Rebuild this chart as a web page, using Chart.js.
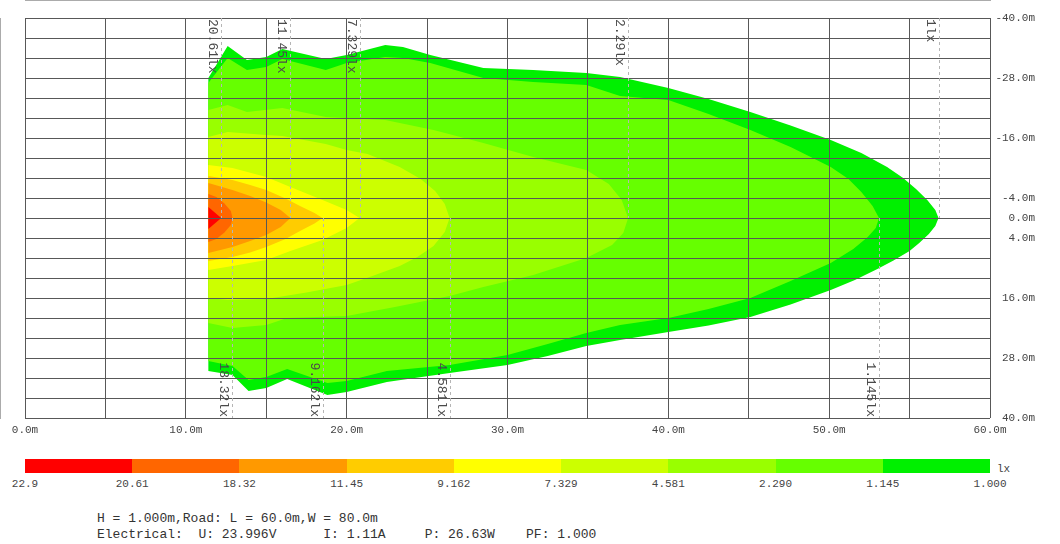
<!DOCTYPE html>
<html><head><meta charset="utf-8">
<script src="https://cdn.jsdelivr.net/npm/chart.js@4.4.0/dist/chart.umd.min.js"></script>
<style>
html,body{margin:0;padding:0;background:#fff;width:1060px;height:544px;overflow:hidden;font-family:'Liberation Mono',monospace;}
#wrap{position:relative;width:1060px;height:544px;}
#c{position:absolute;left:0;top:0;}
.lg{position:absolute;top:459px;height:14px;}
.lgl{position:absolute;top:478px;font-size:11px;color:#444;transform:translateX(-50%);line-height:13px;white-space:nowrap;}
.ft{position:absolute;left:97px;font-size:13px;color:#333;white-space:pre;line-height:15px;}
</style></head><body>
<div id="wrap">
<canvas id="c" width="1060" height="440"></canvas>
<div id="legend"></div>
<div id="footer"></div>
</div>
<script>
// ---- axis ticks ----
const xTickLabels = [0, 10, 20, 30, 40, 50, 60];
const yTickLabels = [-40, -28, -16, -4, 0, 4, 16, 28, 40];

// ---- legend (lux classes) ----
const legendValues = ['22.9', '20.61', '18.32', '11.45', '9.162', '7.329', '4.581', '2.290', '1.145', '1.000'];
const legendColors = ['#FF0000', '#FF6600', '#FF9900', '#FFCC00', '#FFFF00', '#CCFF00', '#99FF00', '#66FF00', '#00F000'];
const legendUnit = 'lx';

// ---- iso-lux markers (tip position along axis, metres) ----
const isoLabels = ['20.61lx', '11.45lx', '7.329lx', '2.29lx', '1lx', '18.32lx', '9.162lx', '4.581lx', '1.145lx'];
const isoX      = [12.2, 16.5, 20.8, 37.5, 56.8, 12.9, 18.5, 26.4, 53.1];
const isoSide   = ['top', 'top', 'top', 'top', 'top', 'bottom', 'bottom', 'bottom', 'bottom'];

// ---- contour polygons [x (m), y (m)] ----
const zone_20_61 = [[11.4,-2.2],[12.2,0],[11.4,2.2]];
const zone_18_32 = [[11.4,-4.8],[11.9,-4.2],[12.4,-2.9],[12.8,-1.4],[12.9,0],[12.8,1.4],[12.4,2.9],[11.9,4.2],[11.4,4.8]];
const zone_11_45 = [[11.4,-7.0],[12.9,-5.6],[14.0,-4.4],[15.0,-3.1],[15.9,-1.6],[16.5,0],[15.9,1.8],[15.0,3.4],[14.0,4.6],[12.9,5.8],[11.4,7.0]];
const zone_9_162 = [[11.4,-8.4],[12.9,-7.6],[14.0,-6.6],[15.0,-5.6],[16.2,-3.9],[17.1,-2.4],[18.0,-1.0],[18.5,0],[18.0,1.1],[17.1,2.6],[16.2,4.2],[15.0,5.8],[14.0,6.9],[12.9,7.8],[11.4,8.6]];
const zone_7_329 = [[11.4,-10.6],[12.9,-10.0],[15.0,-8.2],[16.5,-6.2],[18.5,-3.6],[20.0,-1.6],[20.8,0],[20.0,2.0],[18.5,4.4],[16.5,6.6],[15.0,8.4],[12.9,9.6],[11.4,10.4]];
const zone_4_581 = [[11.4,-16.2],[12.6,-17.2],[15.0,-16.6],[16.0,-16.4],[18.7,-14.8],[20.0,-13.6],[21.3,-12.8],[23.3,-10.2],[24.6,-7.8],[25.5,-5.4],[26.1,-2.8],[26.4,0],[26.1,2.8],[25.4,5.6],[24.4,7.8],[23.3,9.6],[21.6,11.6],[20.0,13.4],[17.5,14.9],[15.0,16.2],[12.6,16.4],[11.4,16.0]];
const zone_2_290 = [[11.4,-21.6],[12.6,-22.6],[13.8,-21.2],[16.0,-22.0],[18.7,-20.2],[22.4,-19.6],[25.4,-17.6],[28.5,-15.0],[31.6,-12.2],[34.9,-9.6],[36.3,-6.8],[37.1,-3.6],[37.5,0],[37.2,3.0],[36.5,5.4],[34.9,8.0],[31.6,11.4],[28.5,13.8],[26.4,15.6],[23.0,17.8],[20.0,19.6],[16.3,20.0],[15.0,21.4],[12.9,22.0],[11.4,21.0]];
const zone_1_145 = [[11.4,-27.0],[12.6,-32.0],[13.8,-29.6],[15.0,-30.2],[16.0,-31.8],[18.7,-29.6],[20.0,-31.0],[22.4,-32.2],[23.5,-32.0],[25.2,-31.0],[28.5,-28.0],[31.6,-27.2],[34.9,-26.6],[37.0,-24.4],[40.0,-23.6],[42.5,-20.8],[45.1,-17.6],[47.6,-14.2],[50.1,-10.2],[51.2,-7.8],[52.0,-5.2],[52.7,-2.4],[53.1,0],[52.9,2.0],[52.4,3.8],[51.5,6.2],[50.1,9.0],[47.6,12.6],[45.1,16.0],[42.5,18.2],[40.0,20.0],[37.0,21.4],[34.9,23.0],[32.5,25.2],[30.0,27.4],[26.4,29.4],[22.5,30.6],[20.0,32.6],[18.8,33.0],[16.3,30.2],[15.0,31.8],[13.9,32.4],[12.9,29.6],[11.4,28.6]];
const zone_1_000 = [[11.4,-28.0],[12.6,-34.4],[13.8,-31.6],[15.0,-32.2],[16.0,-33.8],[18.7,-31.8],[20.0,-32.6],[22.4,-34.6],[23.5,-34.2],[25.2,-32.6],[28.5,-30.0],[31.6,-29.6],[34.9,-29.0],[37.0,-28.2],[40.0,-26.0],[42.5,-23.8],[45.1,-21.2],[47.6,-18.5],[50.1,-15.6],[52.0,-13.0],[53.6,-10.2],[54.6,-8.0],[55.4,-5.8],[56.1,-3.6],[56.6,-1.6],[56.8,0],[56.6,1.6],[56.2,3.2],[55.6,5.0],[55.0,6.6],[54.0,8.5],[53.0,10.2],[51.6,12.4],[50.1,14.4],[47.6,17.3],[45.1,19.8],[42.5,21.5],[40.0,22.8],[37.0,24.4],[34.9,25.6],[32.5,27.6],[30.0,29.4],[26.4,31.0],[22.5,32.8],[20.0,34.8],[18.8,35.4],[16.3,32.2],[15.0,34.0],[13.9,34.6],[12.9,31.4],[11.4,30.6]];

// ---- footer ----
const footerLines = [
  'H = 1.000m,Road: L = 60.0m,W = 80.0m',
  'Electrical:  U: 23.996V      I: 1.11A     P: 26.63W    PF: 1.000'
];

const zones = [zone_20_61, zone_18_32, zone_11_45, zone_9_162, zone_7_329, zone_4_581, zone_2_290, zone_1_145, zone_1_000];

Chart.defaults.font.family = "'Liberation Mono', monospace";

const datasets = zones.map((z, i) => {
  const pts = z.concat([z[0]]).map(p => ({x: p[0], y: p[1]}));
  return {
    data: pts,
    backgroundColor: legendColors[i],
    borderColor: 'transparent',
    borderWidth: 0,
    pointRadius: 0,
    tension: 0,
    fill: 'shape',
    order: i + 1
  };
});

const isoPlugin = {
  id: 'isoMarkers',
  afterDraw(chart) {
    const {ctx, chartArea: a, scales: {x, y}} = chart;
    const yc = y.getPixelForValue(0);
    ctx.save();
    isoX.forEach((v, i) => {
      const px = Math.round(x.getPixelForValue(v)) + 0.5;
      const top = isoSide[i] === 'top';
      ctx.strokeStyle = '#b5b5b5';
      ctx.lineWidth = 1;
      ctx.setLineDash([3, 3]);
      ctx.beginPath();
      ctx.moveTo(px, top ? a.top : yc);
      ctx.lineTo(px, top ? yc : a.bottom);
      ctx.stroke();
      ctx.setLineDash([]);
      ctx.save();
      ctx.translate(px - 3, top ? a.top + 1 : a.bottom - 1);
      ctx.rotate(Math.PI / 2);
      ctx.font = "13px 'Liberation Mono'";
      ctx.fillStyle = '#4a4a4a';
      ctx.textBaseline = 'top';
      ctx.textAlign = top ? 'left' : 'right';
      ctx.fillText(isoLabels[i], 0, 0);
      ctx.restore();
    });
    ctx.restore();
  }
};

new Chart(document.getElementById('c'), {
  type: 'line',
  data: {datasets},
  plugins: [isoPlugin],
  options: {
    responsive: false,
    animation: false,
    events: [],
    layout: {padding: {left: 25, top: 18, right: 25, bottom: 0}},
    plugins: {legend: {display: false}, tooltip: {enabled: false}},
    scales: {
      x: {
        type: 'linear', min: 0, max: 60, position: 'bottom',
        ticks: {
          stepSize: 5, autoSkip: false, maxRotation: 0, padding: 5,
          color: '#444', font: {size: 11},
          callback: v => xTickLabels.includes(v) ? v.toFixed(1) + 'm' : ''
        },
        grid: {color: '#585858', lineWidth: 1, drawTicks: false, z: 1},
        border: {color: '#585858'},
        afterFit: s => { s.height = 22; }
      },
      y: {
        type: 'linear', min: -40, max: 40, reverse: true, position: 'right',
        ticks: {
          stepSize: 4, autoSkip: false, padding: 5, crossAlign: 'far',
          color: '#444', font: {size: 11},
          callback: v => yTickLabels.includes(v) ? v.toFixed(1) + 'm' : ''
        },
        grid: {color: '#585858', lineWidth: 1, drawTicks: false, z: 1},
        border: {color: '#585858'},
        afterFit: s => { s.width = 45; }
      }
    }
  }
});

// ---- legend bar ----
const lg = document.getElementById('legend');
const barLeft = 25, barRight = 990;
const bw = (barRight - barLeft) / legendColors.length;
legendColors.forEach((c, i) => {
  const d = document.createElement('div');
  d.className = 'lg';
  d.style.left = (barLeft + i * bw) + 'px';
  d.style.width = (bw + 0.5) + 'px';
  d.style.background = c;
  lg.appendChild(d);
});
legendValues.forEach((t, i) => {
  const d = document.createElement('div');
  d.className = 'lgl';
  d.style.left = (barLeft + i * bw) + 'px';
  d.textContent = t;
  lg.appendChild(d);
});
const u = document.createElement('div');
u.className = 'lgl';
u.style.transform = 'none';
u.style.left = '997px';
u.style.top = '463px';
u.textContent = legendUnit;
lg.appendChild(u);

// ---- footer ----
const ft = document.getElementById('footer');
footerLines.forEach((t, i) => {
  const d = document.createElement('div');
  d.className = 'ft';
  d.style.top = (511 + i * 16) + 'px';
  d.textContent = t;
  ft.appendChild(d);
});
</script>
</body></html>
